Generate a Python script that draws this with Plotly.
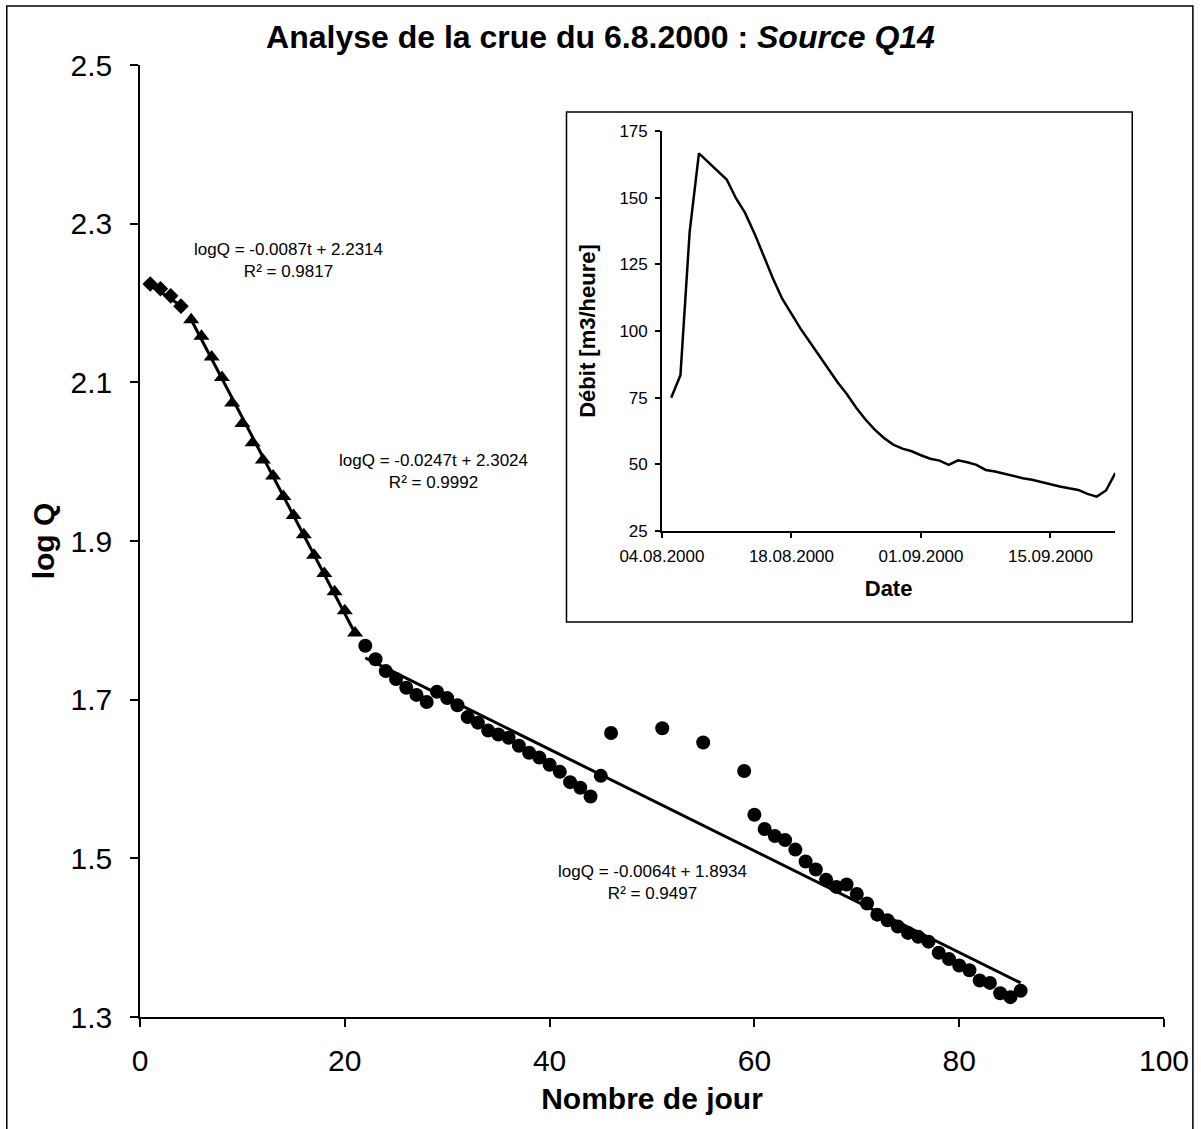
import plotly.graph_objects as go

# --- Recession analysis (log10 of discharge) --------------------------------
# Phase 1: first days after the peak
t_phase1 = [1, 2, 3, 4]
logq_phase1 = [2.224, 2.218, 2.209, 2.196]

# Phase 2: fast recession
t_phase2 = list(range(5, 22))
logq_phase2 = [2.179, 2.158, 2.132, 2.106, 2.074, 2.048, 2.024, 2.002, 1.982,
               1.956, 1.932, 1.908, 1.882, 1.859, 1.836, 1.812, 1.784]

# Phase 3: slow recession (some days without measurement)
t_phase3 = list(range(22, 47)) + [51, 55] + list(range(59, 87))
logq_phase3 = [1.768, 1.751, 1.736, 1.726, 1.715, 1.706, 1.697, 1.710, 1.702,
               1.693, 1.678, 1.671, 1.661, 1.656, 1.652, 1.642, 1.633, 1.627,
               1.618, 1.609, 1.596, 1.589, 1.578, 1.604, 1.658,
               1.664, 1.646,
               1.610, 1.555, 1.537, 1.528, 1.523, 1.511, 1.496, 1.486, 1.473,
               1.464, 1.467, 1.455, 1.443, 1.429, 1.422, 1.414, 1.406, 1.401,
               1.395, 1.381, 1.373, 1.365, 1.359, 1.346, 1.343, 1.330, 1.325,
               1.333]

# Linear fits: (slope, intercept, R²)
fit_phase1 = (-0.0087, 2.2314, 0.9817)
fit_phase2 = (-0.0247, 2.3024, 0.9992)
fit_phase3 = (-0.0064, 1.8934, 0.9497)

# --- Daily discharge hydrograph --------------------------------------------
dates = ["2000-08-%02d" % d for d in range(5, 32)] + \
        ["2000-09-%02d" % d for d in range(1, 23)]
debit = [75.0, 83.4, 137.3, 166.6, 163.3, 159.9, 156.8, 149.8, 144.2, 136.6,
         127.8, 119.7, 112.1, 106.4, 100.8, 95.8, 90.7, 85.7, 80.7, 76.3,
         71.2, 66.8, 63.0, 59.9, 57.4, 55.9, 54.9, 53.4, 52.1, 51.4,
         49.8, 51.5, 50.8, 49.8, 47.9, 47.3, 46.4, 45.7, 44.8, 44.2,
         43.3, 42.5, 41.7, 41.0, 40.4, 38.9, 37.9, 40.2, 46.7]

FONT = "Arial, Liberation Sans, sans-serif"
BLACK = "#000000"

fig = go.Figure()


def fit_line(t_values, fit):
    a, b, _ = fit
    ts = [min(t_values), max(t_values)]
    return ts, [a * t + b for t in ts]


# Trend lines (drawn first so the markers sit on top)
for tv, fit in ((t_phase1, fit_phase1), (t_phase2, fit_phase2), (t_phase3, fit_phase3)):
    xs, ys = fit_line(tv, fit)
    fig.add_trace(go.Scatter(x=xs, y=ys, mode="lines",
                             line=dict(color=BLACK, width=3),
                             showlegend=False, hoverinfo="skip"))

fig.add_trace(go.Scatter(x=t_phase1, y=logq_phase1, mode="markers",
                         marker=dict(symbol="diamond", size=12, color=BLACK),
                         showlegend=False))
fig.add_trace(go.Scatter(x=t_phase2, y=logq_phase2, mode="markers",
                         marker=dict(symbol="triangle-up", size=14, color=BLACK),
                         showlegend=False))
fig.add_trace(go.Scatter(x=t_phase3, y=logq_phase3, mode="markers",
                         marker=dict(symbol="circle", size=14, color=BLACK),
                         showlegend=False))

# Inset hydrograph
fig.add_trace(go.Scatter(x=dates, y=debit, mode="lines",
                         line=dict(color=BLACK, width=2.5),
                         xaxis="x2", yaxis="y2", showlegend=False))

# Equation labels
def eq_text(fit):
    a, b, r2 = fit
    return "logQ = %.4ft + %.4f<br>R² = %.4f" % (a, b, r2)

labels = [(fit_phase1, 14.5, 2.254), (fit_phase2, 28.7, 1.988), (fit_phase3, 50.0, 1.470)]
for fit, lx, ly in labels:
    fig.add_annotation(x=lx, y=ly, xref="x", yref="y", text=eq_text(fit),
                       showarrow=False, align="center",
                       font=dict(family=FONT, size=17, color=BLACK))

axis_common = dict(showline=True, linecolor=BLACK, linewidth=1.5, ticks="outside",
                   tickcolor=BLACK, tickwidth=1.5, showgrid=False, zeroline=False,
                   mirror=False)

fig.update_layout(
    width=1201, height=1129,
    margin=dict(l=140, r=31, t=65, b=112),
    paper_bgcolor="white", plot_bgcolor="white",
    font=dict(family=FONT, color=BLACK),
    title=dict(text="<b>Analyse de la crue du 6.8.2000 : <i>Source Q14</i></b>",
               x=0.5, xref="container", xanchor="center",
               y=1 - 37 / 1129, yref="container", yanchor="middle",
               font=dict(family=FONT, size=32, color=BLACK)),
    xaxis=dict(range=[0, 100], tickmode="array", tickvals=[0, 20, 40, 60, 80, 100],
               ticklen=8, ticklabelstandoff=8,
               tickfont=dict(family=FONT, size=30, color=BLACK),
               title=dict(text="<b>Nombre de jour</b>", standoff=12,
                          font=dict(family=FONT, size=30, color=BLACK)),
               **axis_common),
    yaxis=dict(range=[1.3, 2.5], tick0=1.3, dtick=0.2, tickformat=".1f",
               ticklen=8, ticklabelstandoff=12,
               tickfont=dict(family=FONT, size=30, color=BLACK),
               title=dict(text="<b>log Q</b>", standoff=7,
                          font=dict(family=FONT, size=30, color=BLACK)),
               **axis_common),
    xaxis2=dict(domain=[0.5097, 0.9524], anchor="y2", type="date",
                range=["2000-08-04", "2000-09-22"],
                tick0="2000-08-04", dtick=14 * 86400000, tickformat="%d.%m.%Y",
                ticklen=5, ticklabelstandoff=4,
                tickfont=dict(family=FONT, size=17, color=BLACK),
                title=dict(text="<b>Date</b>", standoff=15,
                           font=dict(family=FONT, size=22, color=BLACK)),
                **axis_common),
    yaxis2=dict(domain=[0.5105, 0.9307], anchor="x2", range=[25, 175], tick0=25, dtick=25,
                ticklen=5, ticklabelstandoff=4,
                tickfont=dict(family=FONT, size=17, color=BLACK),
                title=dict(text="<b>Débit [m3/heure]</b>", standoff=18,
                           font=dict(family=FONT, size=22, color=BLACK)),
                **axis_common),
    shapes=[
        # outer chart frame
        dict(type="rect", xref="paper", yref="paper",
             x0=-0.1301, x1=1.0282, y0=-0.129, y1=1.062,
             line=dict(color=BLACK, width=1.5), fillcolor="rgba(0,0,0,0)", layer="below"),
        # inset frame
        dict(type="rect", xref="paper", yref="paper",
             x0=0.4165, x1=0.969, y0=0.4149, y1=0.9506,
             line=dict(color=BLACK, width=1.5), fillcolor="white", layer="below"),
    ],
)

fig.write_html("out.html")
